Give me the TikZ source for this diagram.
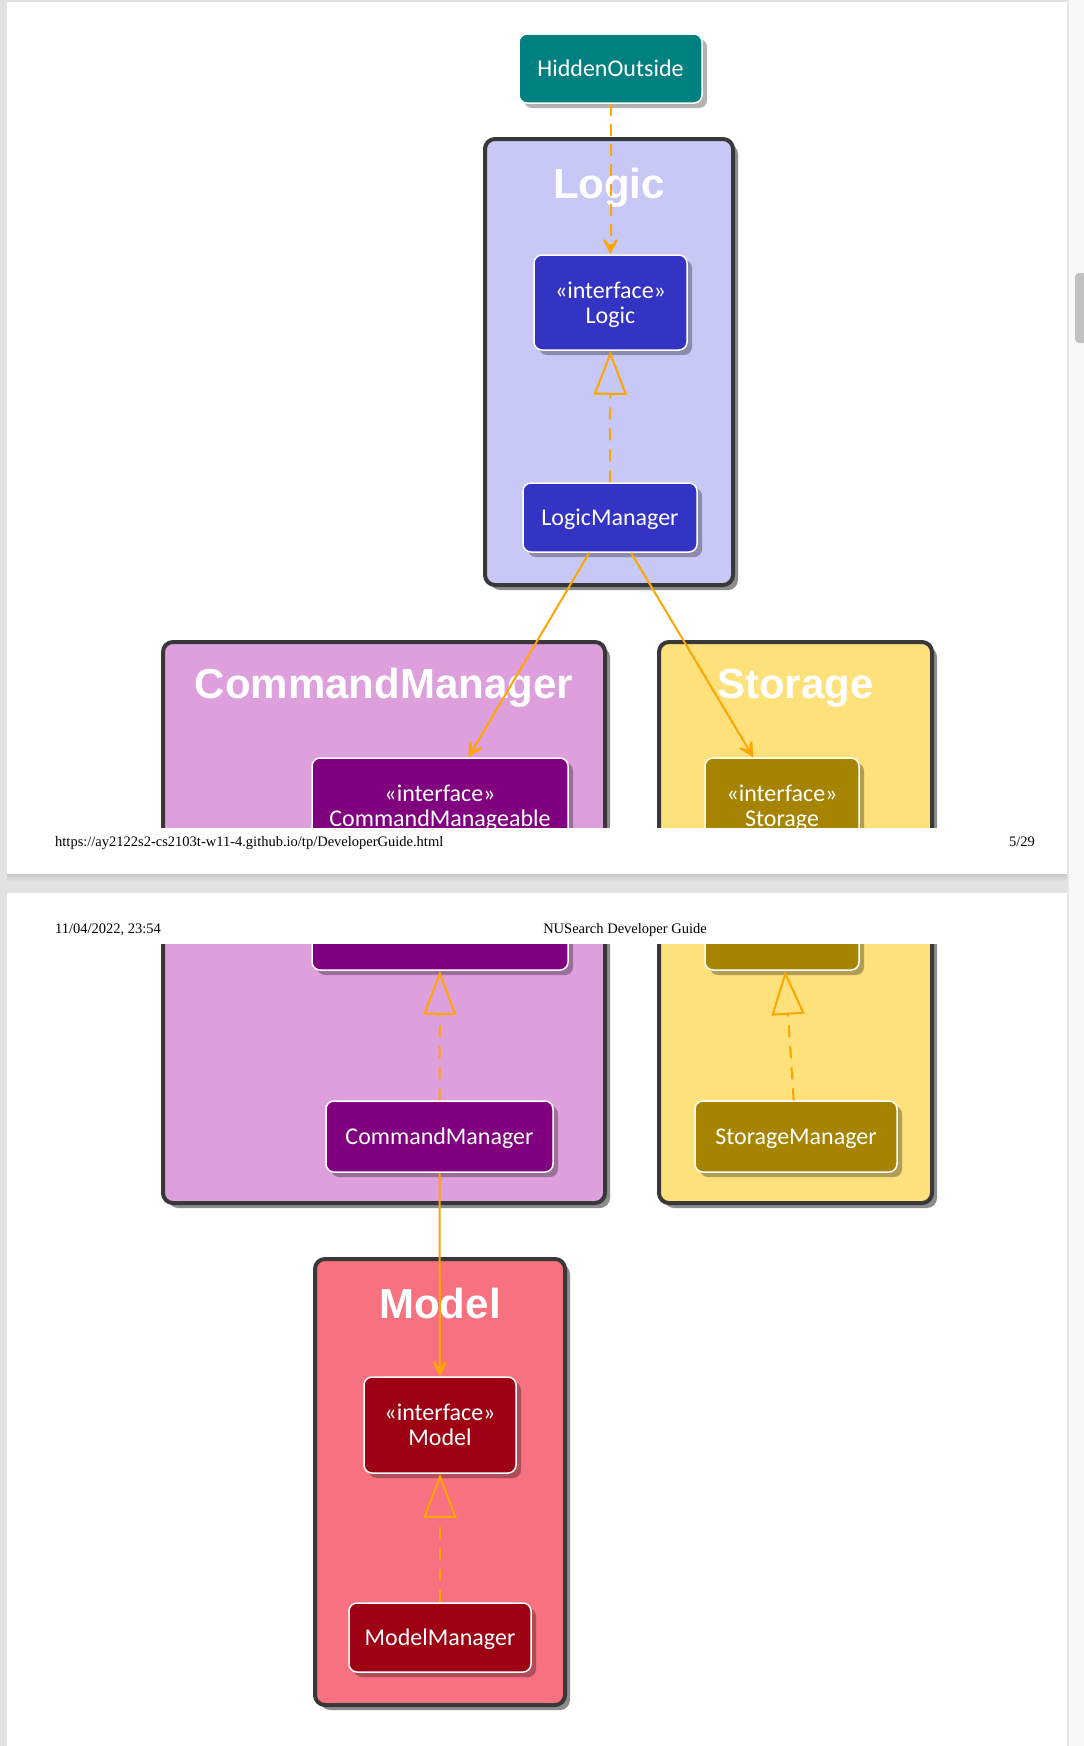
\documentclass[tikz,border=0pt]{standalone}
\usepackage{fontspec}
\setmainfont{Liberation Serif}
\newfontfamily\classfont{Carlito}
\newfontfamily\pkgfont{Liberation Sans}
\usetikzlibrary{arrows.meta,shadows}

% viewer chrome
\definecolor{viewerbg}{RGB}{226,226,226}
\definecolor{trackbg}{RGB}{248,248,248}
\definecolor{trackline}{RGB}{230,230,230}
\definecolor{thumbc}{RGB}{193,193,193}
% package and class colours
\definecolor{pkgborder}{RGB}{56,56,56}
\definecolor{logicpkg}{RGB}{200,200,246}
\definecolor{logiccls}{RGB}{51,51,196}
\definecolor{cmpkg}{RGB}{221,160,221}
\definecolor{cmcls}{RGB}{128,0,128}
\definecolor{storepkg}{RGB}{254,225,123}
\definecolor{storecls}{RGB}{166,132,0}
\definecolor{modelpkg}{RGB}{248,113,128}
\definecolor{modelcls}{RGB}{157,0,19}
\definecolor{hiddencls}{RGB}{0,128,128}
\definecolor{arrowc}{RGB}{255,165,0}

\tikzset{
  pkg/.style={rectangle, draw=pkgborder, line width=4pt, rounded corners=10pt,
    inner sep=0pt,
    drop shadow={shadow xshift=5pt, shadow yshift=-5pt, fill=black, opacity=0.45}},
  pkgtitle/.style={anchor=base, text=white, inner sep=0pt,
    font=\pkgfont\bfseries\fontsize{42}{44}\selectfont},
  cls/.style={rectangle, rounded corners=8pt, draw=white, line width=1.5pt,
    text=white, align=center, inner sep=2pt, text depth=0pt,
    font=\classfont\fontsize{24}{25}\selectfont,
    drop shadow={shadow xshift=5pt, shadow yshift=-5pt, fill=black, opacity=0.3}},
  dep/.style={draw=arrowc, line width=2pt,
    -{Stealth[length=23pt, width=24pt, inset=15pt]}},
  dashdep/.style={dep, dash pattern=on 12pt off 8pt},
  realize/.style={draw=arrowc, line width=2pt, dash pattern=on 12pt off 9pt,
    -{Triangle[open, length=44pt, width=33pt]}},
  pagetext/.style={inner sep=0pt, font=\fontsize{14.5}{17}\selectfont},
}

% the CommandManager and Storage package frames, which run across the sheet break
\newcommand\midpackages{%
  \node[pkg, fill=cmpkg, minimum width=442pt, minimum height=444pt] (cmpkg) at (384,864) {};
  \node[pkg, fill=storepkg, minimum width=273pt, minimum height=444pt] (storepkg) at (795.5,864) {};
}

\begin{document}
\begin{tikzpicture}[x=1pt, y=-1pt]
  \useasboundingbox (0,0) rectangle (1084,1746);
  % viewer background and scrollbar
  \fill[viewerbg] (0,0) rectangle (1067,1746);
  \fill[trackbg] (1067,0) rectangle (1084,1746);
  \fill[trackline] (1067,0) rectangle (1069,1746);
  \begin{scope}
    \clip (1069,0) rectangle (1084,1746);
    \fill[thumbc, rounded corners=4pt] (1075,273) rectangle (1092,343);
  \end{scope}
  % printed sheets
  \fill[white] (7,2) rectangle (1067,874);
  \shade[top color=black!22, bottom color=viewerbg] (7,874) rectangle (1067,881);
  \fill[white] (7,893) rectangle (1067,1746);
  % running footer and header
  \node[pagetext, anchor=base west] (url) at (55,846) {https://ay2122s2-cs2103t-w11-4.github.io/tp/DeveloperGuide.html};
  \node[pagetext, anchor=base east] (pageno) at (1035,846) {5/29};
  \node[pagetext, anchor=base west] (stamp) at (55,933) {11/04/2022, 23:54};
  \node[pagetext, anchor=base] (doctitle) at (625,933) {NUSearch Developer Guide};

  % ---- diagram, first sheet ----
  \begin{scope}
    \clip (7,0) rectangle (1067,827);
    % Logic package
    \node[pkg, fill=logicpkg, minimum width=248pt, minimum height=446pt] (logicpkg) at (609,362) {};
    \node[pkgtitle] (logictitle) at (609,198) {Logic};
    \node[cls, fill=hiddencls, minimum width=183pt, minimum height=69pt] (hidden) at (610.5,68.5) {HiddenOutside};
    \node[cls, fill=logiccls, minimum width=153pt, minimum height=95pt] (logicI) at (610.5,302.5) {«interface»\\Logic};
    \node[cls, fill=logiccls, minimum width=174pt, minimum height=69pt] (logicM) at (610,517.5) {LogicManager};
    % CommandManager and Storage packages, upper part
    \midpackages
    \node[pkgtitle] (cmtitle) at (384,698) {CommandManager};
    \node[pkgtitle] (storetitle) at (795.5,698) {Storage};
    \node[cls, fill=cmcls, minimum width=256pt, minimum height=95pt] (cmI) at (440,805.5) {«interface»\\CommandManageable};
    \node[cls, fill=storecls, minimum width=154pt, minimum height=95pt] (storeI) at (782,805.5) {«interface»\\Storage};
    % connectors
    \draw[dashdep] (hidden) -- (logicI);
    \draw[realize] (logicM) -- (logicI);
    \draw[dep] (logicM) -- (cmI);
    \draw[dep] (logicM) -- (storeI);
  \end{scope}

  % ---- diagram, second sheet (same coordinates, moved below the break) ----
  \begin{scope}[shift={(0,117)}]
    \clip (7,827) rectangle (1067,1629);
    \midpackages
    % lower edges of the two interfaces cut by the break
    \node[cls, fill=cmcls, minimum width=256pt, minimum height=95pt] (cmIlow) at (440,805.5) {};
    \node[cls, fill=storecls, minimum width=154pt, minimum height=95pt] (storeIlow) at (782,805.5) {};
    \node[cls, fill=cmcls, minimum width=227pt, minimum height=71pt] (cmM) at (439.5,1019.5) {CommandManager};
    \node[cls, fill=storecls, minimum width=202pt, minimum height=71pt] (storeM) at (796,1019.5) {StorageManager};
    % Model package
    \node[pkg, fill=modelpkg, minimum width=250pt, minimum height=446pt] (modelpkg) at (440,1365) {};
    \node[pkgtitle] (modeltitle) at (440,1201) {Model};
    \node[cls, fill=modelcls, minimum width=152pt, minimum height=96pt] (modelI) at (440,1308) {«interface»\\Model};
    \node[cls, fill=modelcls, minimum width=182pt, minimum height=69pt] (modelM) at (440,1520.5) {ModelManager};
    % connectors
    \draw[realize] (cmM) -- (cmIlow);
    \draw[realize] (storeM) -- (storeIlow);
    \draw[dep] (cmM) -- (modelI);
    \draw[realize] (modelM) -- (modelI);
  \end{scope}
\end{tikzpicture}
\end{document}
